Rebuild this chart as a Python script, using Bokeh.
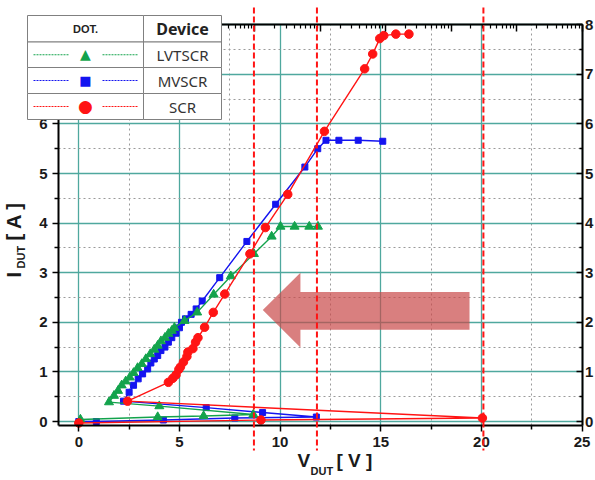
import math
from bokeh.plotting import figure
from bokeh.models import (Range1d, LinearAxis, LogAxis, LogScale, FixedTicker, BoxAnnotation,
                          Label, Arrow)
from bokeh.embed import file_html
from bokeh.resources import INLINE

# ---------------- data ----------------
scr_v = [0.0, 9.05, 20.05, 2.42, 4.45, 4.67, 4.83, 4.97, 5.05, 5.2, 5.37, 5.42, 5.67, 5.8,
         5.92, 6.25, 6.68, 7.25, 8.5, 9.27, 10.38, 12.2, 14.2, 14.6, 14.95, 15.15, 15.75, 16.4]
scr_i = [-0.03, 0.03, 0.07, 0.41, 0.79, 0.87, 0.94, 1.05, 1.1, 1.2, 1.31, 1.4, 1.47, 1.6,
         1.69, 1.9, 2.2, 2.57, 3.38, 3.91, 4.58, 5.85, 7.11, 7.41, 7.72, 7.78, 7.81, 7.81]

mv_v = [0.0, 0.87, 4.2, 7.75, 11.8, 9.13, 6.33, 2.22, 2.5, 2.72, 2.95, 3.17, 3.42, 3.58, 3.75,
        3.92, 4.08, 4.28, 4.45, 4.62, 4.83, 5.0, 5.1, 5.3, 5.58, 5.83, 6.13, 7.0, 8.35, 9.78,
        11.23, 11.87, 12.28, 12.92, 13.88, 15.1]
mv_i = [0.0, 0.0, 0.03, 0.07, 0.09, 0.18, 0.28, 0.41, 0.59, 0.73, 0.86, 0.96, 1.06, 1.18, 1.26,
        1.33, 1.43, 1.5, 1.6, 1.69, 1.78, 1.89, 2.0, 2.07, 2.16, 2.27, 2.43, 2.9, 3.63, 4.38,
        5.13, 5.5, 5.67, 5.67, 5.67, 5.65]

lv_v = [0.08, 3.92, 6.2, 8.67, 4.0, 1.5, 1.75, 1.95, 2.13, 2.33, 2.53, 2.72, 2.92, 3.13, 3.33,
        3.55, 3.75, 3.92, 4.08, 4.28, 4.45, 4.62, 4.75, 5.25, 5.88, 6.7, 7.55, 8.7, 9.58, 10.02,
        10.72, 11.45, 11.88]
lv_i = [0.04, 0.09, 0.11, 0.14, 0.31, 0.39, 0.52, 0.62, 0.73, 0.81, 0.89, 0.98, 1.08, 1.16, 1.26,
        1.36, 1.45, 1.53, 1.62, 1.69, 1.77, 1.83, 1.89, 2.03, 2.2, 2.56, 2.93, 3.38, 3.73, 3.93,
        3.93, 3.93, 3.93]

x_major = [0, 5, 10, 15, 20, 25]
x_minor = [2.5, 7.5, 12.5, 17.5, 22.5]
y_major = [0, 1, 2, 3, 4, 5, 6, 7, 8]
y_minor = [0.5, 1.5, 2.5, 3.5, 4.5, 5.5, 6.5, 7.5]
top_decades = [1e0, 1e1, 1e2, 1e3, 1e4, 1e5, 1e6, 1e7, 1e8]
top_mantissas = [2, 3, 4, 5, 6, 7, 8, 9]
guide_v = [8.7, 11.83, 20.1]
legend_header = ["DOT.", "Device"]
legend_names = ["LVTSCR", "MVSCR", "SCR"]
legend_marks = ["\u25B2", "\u25A0", "\u25CF"]

# big arrow (V, I)
arrow_v = [9.14, 11.01, 11.01, 19.41, 19.41, 11.01, 11.01]
arrow_i = [2.25, 3.0, 2.61, 2.61, 1.85, 1.85, 1.49]

# ---------------- style / layout ----------------
GREEN, BLUE, RED = "#13a34c", "#1414f0", "#ff1414"
TEAL, GRAY = "#4fa89e", "#9a9a9a"
W, H = 595, 480
BOX_X = (-1.0, 25.0)        # plotted box (data)
BOX_Y = (-0.09, 8.0)
PX0, PXS = 78.3, 20.13      # canvas x of V=0, px per volt
PY0, PYS = 421.0, 49.6      # canvas y of I=0, px per amp
XL, XR = -PX0 / PXS, (W - PX0) / PXS
YT, YB = PY0 / PYS, (PY0 - H) / PYS
FONT = "Liberation Sans"


def sx(v):  # data x -> canvas x
    return PX0 + v * PXS


# log range for the top axis: 8 decades across the plotted box
box_l, box_r = sx(BOX_X[0]), sx(BOX_X[1])
dec_px = (box_r - box_l) / 8.0
LOG_L = 10 ** (-box_l / dec_px)
LOG_R = 10 ** (8 + (W - box_r) / dec_px)

# The frame spans the whole canvas; axes are pinned at the box edges.
p = figure(width=W, height=H, x_range=Range1d(XL, XR), y_range=Range1d(YB, YT),
           output_backend="svg", toolbar_location=None, min_border=0)
p.extra_x_ranges = {"log": Range1d(LOG_L, LOG_R)}
p.extra_x_scales = {"log": LogScale()}
p.background_fill_color = "white"
p.border_fill_color = "white"
p.outline_line_color = None

# grids
p.xgrid.ticker = FixedTicker(ticks=x_major, minor_ticks=x_minor)
p.ygrid.ticker = FixedTicker(ticks=y_major, minor_ticks=y_minor)
p.xgrid.bounds = BOX_X
p.xgrid.cross_bounds = BOX_Y
p.ygrid.bounds = BOX_Y
p.ygrid.cross_bounds = BOX_X
for g in (p.xgrid, p.ygrid):
    g.grid_line_color = TEAL
    g.grid_line_width = 1.3
    g.minor_grid_line_color = GRAY
    g.minor_grid_line_dash = "2 3"
    g.minor_grid_line_width = 1

common = dict(axis_line_width=2, major_tick_line_width=1.5, minor_tick_line_width=1.5,
              major_label_text_font=FONT, major_label_text_font_style="bold",
              major_label_text_font_size="15px", major_label_text_color="#1a1a1a")

xa = p.xaxis[0]
xa.update(ticker=FixedTicker(ticks=x_major, minor_ticks=x_minor), fixed_location=BOX_Y[0],
          bounds=BOX_X, major_tick_out=6, major_tick_in=0, minor_tick_out=4, minor_tick_in=0,
          major_label_standoff=5, **common)
ya = p.yaxis[0]
ya.update(ticker=FixedTicker(ticks=y_major, minor_ticks=y_minor), fixed_location=BOX_X[0],
          bounds=BOX_Y, major_tick_out=6, major_tick_in=0, minor_tick_out=4, minor_tick_in=0,
          major_label_standoff=5, **common)

top_minor = [m * d for d in top_decades[:-1] for m in top_mantissas]
top = LogAxis(x_range_name="log",
              ticker=FixedTicker(ticks=top_decades, minor_ticks=top_minor),
              fixed_location=BOX_Y[1], bounds=(top_decades[0], top_decades[-1]),
              major_label_overrides={t: "" for t in top_decades},
              major_tick_in=7, major_tick_out=0, minor_tick_in=4, minor_tick_out=0,
              axis_line_width=2, major_tick_line_width=1.5, minor_tick_line_width=1.2)
p.add_layout(top, "above")
right = LinearAxis(ticker=FixedTicker(ticks=y_major, minor_ticks=y_minor),
                   fixed_location=BOX_X[1], bounds=BOX_Y, major_label_standoff=3,
                   major_tick_in=6, major_tick_out=0, minor_tick_in=3, minor_tick_out=0,
                   **common)
p.add_layout(right, "right")

# big translucent arrow
p.patch(arrow_v, arrow_i, fill_color="#c94848", fill_alpha=0.7, line_color=None)

# data series
p.line(mv_v, mv_i, color=BLUE, line_width=1.4)
p.scatter(mv_v, mv_i, marker="square", size=6, color=BLUE)
p.line(lv_v, lv_i, color=GREEN, line_width=1.4)
p.scatter(lv_v, lv_i, marker="triangle", size=9, color=GREEN)
p.line(scr_v, scr_i, color=RED, line_width=1.4)
p.scatter(scr_v, scr_i, marker="circle", size=8.5, color=RED)

# red dashed guides (extend past the box)
for v in guide_v:
    p.add_layout(Arrow(end=None, x_start=sx(v), y_start=7, x_end=sx(v), y_end=450,
                       start_units="canvas", end_units="canvas",
                       line_color=RED, line_width=2, line_dash="6 3"))

# legend table (canvas pixels)
col_x = [27, 143, 221]
row_y = [15, 41.5, 67, 93, 119]
for r in range(4):
    for c in range(2):
        p.add_layout(BoxAnnotation(left=col_x[c], right=col_x[c + 1],
                                   top=row_y[r], bottom=row_y[r + 1],
                                   left_units="canvas", right_units="canvas",
                                   top_units="canvas", bottom_units="canvas",
                                   fill_color="white", fill_alpha=1.0,
                                   line_color="#808080", line_width=1, line_alpha=1.0))


def clabel(x, y, text, **kw):
    p.add_layout(Label(x=x, y=y, x_units="canvas", y_units="canvas", text=text, **kw))


clabel(85, 28, legend_header[0], text_font=FONT, text_font_style="bold", text_font_size="11px",
       text_align="center", text_baseline="middle", text_color="#222222")
clabel(182, 28.5, legend_header[1], text_font="Noto Sans", text_font_style="bold",
       text_font_size="16px", text_align="center", text_baseline="middle", text_color="#222222")
series_colors = [GREEN, BLUE, RED]
mark_sizes = ["14px", "13px", "17px"]
for k in range(3):
    yc = (row_y[k + 1] + row_y[k + 2]) / 2
    clabel(182, yc, legend_names[k], text_font="Noto Sans", text_font_size="15px",
           text_align="center", text_baseline="middle", text_color="#333333")
    for xs, xe in ((33, 68), (102, 137)):
        p.add_layout(Arrow(end=None, x_start=xs, y_start=yc, x_end=xe, y_end=yc,
                           start_units="canvas", end_units="canvas",
                           line_color=series_colors[k], line_width=1, line_dash="2 1"))
    clabel(85, yc - 0.5, legend_marks[k], text_font="DejaVu Sans", text_font_size=mark_sizes[k],
           text_align="center", text_baseline="middle", text_color=series_colors[k])

# axis titles with subscripts
clabel(297, 470, "V", text_font=FONT, text_font_style="bold", text_font_size="19px",
       text_color="#1a1a1a")
clabel(310, 476, "DUT", text_font=FONT, text_font_style="bold", text_font_size="11px",
       text_color="#1a1a1a")
clabel(336, 470, "[ V ]", text_font=FONT, text_font_style="bold", text_font_size="19px",
       text_color="#1a1a1a")
clabel(24, 277, "I", angle=math.pi / 2, text_font=FONT, text_font_style="bold",
       text_font_size="20px", text_color="#1a1a1a")
clabel(26, 268, "DUT", angle=math.pi / 2, text_font=FONT, text_font_style="bold",
       text_font_size="11px", text_color="#1a1a1a")
clabel(24, 240, "[ A ]", angle=math.pi / 2, text_font=FONT, text_font_style="bold",
       text_font_size="20px", text_color="#1a1a1a")

open("out.html", "w").write(file_html(p, INLINE))
